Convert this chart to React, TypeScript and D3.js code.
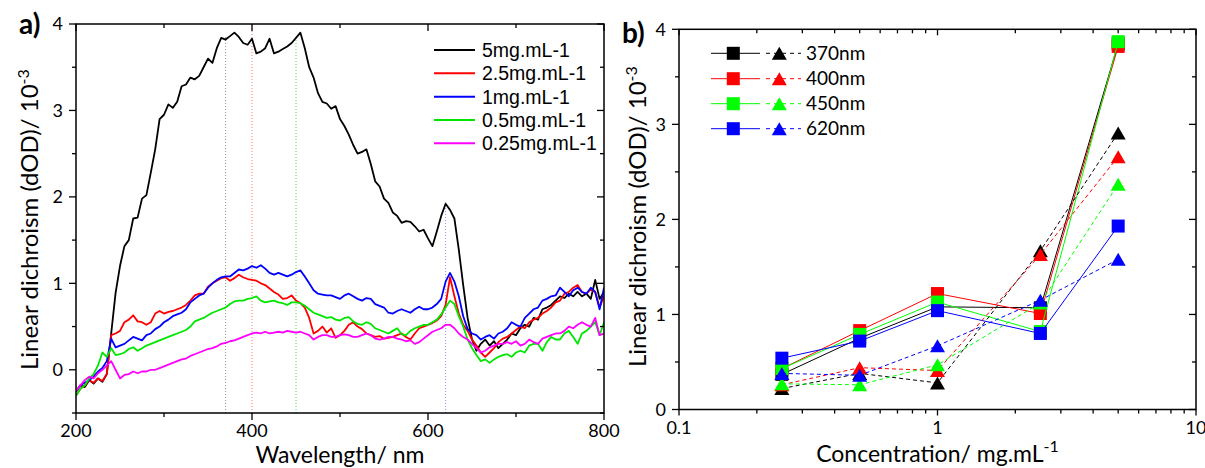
import React from 'react';
import * as d3 from 'd3';

// ---------- Panel a data ----------
const wavelengths = d3.range(200, 801, 5);
const ld5 = [
  -0.25, -0.18, -0.2, -0.12, -0.16, -0.1, -0.14, -0.05, 0.42, 0.89,
  1.2, 1.43, 1.5, 1.75, 1.76, 1.98, 2.02, 2.28, 2.55, 2.9,
  2.95, 3.07, 3.03, 3.1, 3.28, 3.3, 3.38, 3.36, 3.4, 3.5,
  3.6, 3.55, 3.72, 3.84, 3.82, 3.86, 3.9, 3.85, 3.78, 3.76,
  3.83, 3.66, 3.68, 3.72, 3.83, 3.66, 3.68, 3.71, 3.74, 3.78,
  3.84, 3.9, 3.72, 3.5, 3.38, 3.2, 3.1, 3.08, 3.02, 3.05,
  2.9, 2.82, 2.72, 2.6, 2.5, 2.52, 2.55, 2.38, 2.18, 2.12,
  1.98, 1.93, 1.82, 1.78, 1.7, 1.72, 1.71, 1.66, 1.6, 1.62,
  1.52, 1.43, 1.6, 1.78, 1.92, 1.85, 1.75, 1.39, 0.98, 0.6,
  0.35, 0.22, 0.3, 0.35, 0.28, 0.33, 0.25, 0.3, 0.35, 0.42,
  0.4, 0.48, 0.52, 0.5, 0.6, 0.58, 0.7, 0.72, 0.75, 0.8,
  0.85, 0.83, 0.88, 0.85, 0.9, 0.85, 0.88, 0.82, 1.04, 0.82,
  0.9,
];
const ld2_5 = [
  -0.3, -0.22, -0.18, -0.12, -0.15, -0.1, -0.13, -0.05, 0.4, 0.42,
  0.45, 0.55, 0.58, 0.63, 0.56, 0.55, 0.52, 0.55, 0.65, 0.68,
  0.65, 0.67, 0.68, 0.7, 0.72, 0.75, 0.8, 0.86, 0.88, 0.88,
  0.96, 1.0, 1.03, 1.06, 1.07, 1.03, 1.06, 1.1, 1.07, 1.05,
  1.04, 1.03, 1.0, 0.98, 0.94, 0.9, 0.87, 0.82, 0.83, 0.86,
  0.8, 0.77, 0.72, 0.6, 0.42, 0.45, 0.5, 0.43, 0.48, 0.37,
  0.4, 0.45, 0.52, 0.55, 0.5, 0.47, 0.42, 0.4, 0.38, 0.39,
  0.36, 0.37, 0.38, 0.4, 0.42, 0.38, 0.35, 0.42, 0.48, 0.5,
  0.52, 0.54, 0.57, 0.62, 0.75, 1.07, 0.85, 0.65, 0.52, 0.45,
  0.35, 0.28, 0.2, 0.15, 0.2, 0.25, 0.32, 0.36, 0.38, 0.42,
  0.46, 0.5, 0.48, 0.55, 0.58, 0.6, 0.65, 0.68, 0.72, 0.78,
  0.8, 0.88, 0.9, 0.95, 0.98, 0.9, 0.88, 0.93, 0.9, 0.72,
  0.85,
];
const ld1 = [
  -0.25, -0.18, -0.15, -0.12, -0.08, -0.02, 0.02, 0.1, 0.36, 0.26,
  0.28, 0.3, 0.34, 0.38, 0.36, 0.34, 0.4, 0.42, 0.47, 0.5,
  0.55, 0.58, 0.62, 0.64, 0.66, 0.7, 0.78, 0.82, 0.86, 0.88,
  0.95, 1.0, 1.04, 1.07, 1.08, 1.08, 1.12, 1.16, 1.15, 1.17,
  1.2, 1.18, 1.21, 1.17, 1.12, 1.1, 1.12, 1.1, 1.08, 1.1,
  1.13, 1.15, 1.08, 1.0, 0.92, 0.88, 0.87, 0.86, 0.86, 0.84,
  0.82, 0.86, 0.88, 0.85, 0.82, 0.8, 0.83, 0.82, 0.76, 0.74,
  0.72, 0.66, 0.65, 0.68, 0.7, 0.68, 0.66, 0.7, 0.73, 0.7,
  0.7, 0.72, 0.76, 0.82, 1.02, 1.12, 1.02, 0.85, 0.62, 0.47,
  0.42, 0.4, 0.35, 0.38, 0.4, 0.36, 0.42, 0.44, 0.48, 0.55,
  0.52, 0.5, 0.6, 0.65, 0.7, 0.72, 0.8, 0.82, 0.85, 0.86,
  0.95, 0.9, 0.85, 0.92, 0.95, 0.9, 0.88, 0.95, 0.9, 0.7,
  0.95,
];
const ld0_5 = [
  -0.3, -0.22, -0.18, -0.1, -0.05, 0.05, 0.2, 0.15, 0.25, 0.17,
  0.18, 0.2, 0.24, 0.26, 0.22, 0.25, 0.28, 0.3, 0.32, 0.34,
  0.36, 0.38, 0.4, 0.42, 0.44, 0.46, 0.5, 0.56, 0.58, 0.6,
  0.63, 0.66, 0.68, 0.7, 0.72, 0.76, 0.79, 0.8, 0.8, 0.82,
  0.83, 0.85, 0.8, 0.78, 0.79, 0.8, 0.78, 0.77, 0.75, 0.78,
  0.78, 0.77, 0.74, 0.7, 0.66, 0.64, 0.62, 0.6, 0.61, 0.58,
  0.57, 0.6, 0.61, 0.56, 0.53, 0.52, 0.55, 0.53, 0.48, 0.46,
  0.44, 0.42, 0.45, 0.48, 0.41, 0.4, 0.45, 0.48, 0.5, 0.52,
  0.52, 0.55, 0.58, 0.64, 0.72, 0.8, 0.76, 0.62, 0.5, 0.35,
  0.25, 0.17, 0.1, 0.12, 0.08, 0.12, 0.15, 0.17, 0.18, 0.15,
  0.2, 0.22, 0.2, 0.28, 0.3, 0.3, 0.22, 0.32, 0.38, 0.35,
  0.35, 0.42, 0.45, 0.38, 0.3, 0.42, 0.45, 0.5, 0.55, 0.4,
  0.55,
];
const ld0_25 = [
  -0.25, -0.18, -0.12, -0.08, -0.1, -0.04, 0.0, 0.05, 0.1, 0.0,
  -0.1, -0.06, -0.05, -0.02, -0.04, -0.02, -0.02, 0.0, 0.0, 0.02,
  0.04, 0.06, 0.08, 0.1, 0.12, 0.13, 0.16, 0.18, 0.2, 0.22,
  0.24, 0.25, 0.27, 0.3, 0.31, 0.33, 0.34, 0.36, 0.38, 0.4,
  0.42, 0.43, 0.42, 0.44, 0.42, 0.43, 0.44, 0.43, 0.45, 0.44,
  0.43, 0.44, 0.42, 0.4, 0.35, 0.38, 0.4, 0.4, 0.38, 0.38,
  0.4, 0.41, 0.4, 0.38, 0.38, 0.4, 0.42, 0.4, 0.36, 0.35,
  0.36, 0.38, 0.38, 0.36, 0.35, 0.33, 0.34, 0.3, 0.32, 0.36,
  0.4, 0.44, 0.46, 0.48, 0.52, 0.52, 0.48, 0.42, 0.38, 0.35,
  0.3, 0.25, 0.2, 0.22, 0.26, 0.28, 0.3, 0.3, 0.32, 0.3,
  0.33, 0.28, 0.3, 0.35, 0.32, 0.3, 0.36, 0.38, 0.4, 0.42,
  0.42, 0.45, 0.5, 0.48, 0.52, 0.55, 0.52, 0.5, 0.6, 0.4,
  0.42,
];
const spectraLabels = ['5mg.mL-1', '2.5mg.mL-1', '1mg.mL-1', '0.5mg.mL-1', '0.25mg.mL-1'];
const spectraColors = ['#000000', '#ff0000', '#0000ff', '#00e600', '#ff00ff'];
const spectra = [ld5, ld2_5, ld1, ld0_5, ld0_25];

const markerWavelengths = [370, 400, 450, 620];
const markerTops = [3.85, 4.0, 3.87, 1.95];
const markerColors = ['#909090', '#ff7070', '#50e050', '#9090ff'];

const xTicksA = [200, 400, 600, 800];
const xMinorA = [300, 500, 700];
const yTicksA = [0, 1, 2, 3, 4];
const yMinorA = [-0.5, 0.5, 1.5, 2.5, 3.5];

// ---------- Panel b data ----------
const concentrations = [0.25, 0.5, 1, 2.5, 5];
const bandLabels = ['370nm', '400nm', '450nm', '620nm'];
const bandColors = ['#000000', '#ff0000', '#00ff00', '#0000ff'];
const sq370 = [0.37, 0.75, 1.08, 1.07, 3.85];
const sq400 = [0.43, 0.83, 1.22, 1.01, 3.82];
const sq450 = [0.43, 0.79, 1.13, 0.82, 3.87];
const sq620 = [0.54, 0.72, 1.04, 0.80, 1.93];
const tri370 = [0.22, 0.38, 0.28, 1.67, 2.91];
const tri400 = [0.26, 0.44, 0.41, 1.63, 2.66];
const tri450 = [0.27, 0.26, 0.47, 1.12, 2.37];
const tri620 = [0.38, 0.36, 0.67, 1.15, 1.58];
const squareSeries = [sq370, sq400, sq450, sq620];
const triangleSeries = [tri370, tri400, tri450, tri620];

const xTicksB = [0.1, 1, 10];
const xTickLabelsB = ['0.1', '1', '10'];
const xMinorB = [0.2, 0.3, 0.4, 0.5, 0.6, 0.7, 0.8, 0.9, 2, 3, 4, 5, 6, 7, 8, 9];
const yTicksB = [0, 1, 2, 3, 4];
const yMinorB = [0.5, 1.5, 2.5, 3.5];

const FONT = 'Lato, "Open Sans", sans-serif';

export default function App() {
  const A = { l: 76, r: 604, t: 24, b: 413 };
  const xa = d3.scaleLinear().domain([200, 800]).range([A.l, A.r]);
  const ya = d3.scaleLinear().domain([-0.5, 4]).range([A.b, A.t]);
  const lineA = d3.line<number>().x((_, i) => xa(wavelengths[i])).y((d) => ya(d));

  const B = { l: 679, r: 1196, t: 29.3, b: 409.5 };
  const xb = d3.scaleLog().domain([0.1, 10]).range([B.l, B.r]);
  const yb = d3.scaleLinear().domain([0, 4]).range([B.b, B.t]);
  const lineB = d3.line<number>().x((_, i) => xb(concentrations[i])).y((d) => yb(d));

  const sq = 13;
  const triW = 15;
  const triH = 13;
  const triPath = (cx: number, cy: number) =>
    `M${cx},${cy - triH / 2}L${cx + triW / 2},${cy + triH / 2}L${cx - triW / 2},${cy + triH / 2}Z`;

  const legendARows = [50, 73.3, 96.7, 120, 143.3];
  const legendBRows = [53.3, 78.7, 103.7, 128.7];

  return (
    <svg width={1205} height={468} style={{ position: 'absolute', left: 0, top: 0, background: '#fff' }}>
      <defs>
        <clipPath id="clipA">
          <rect x={A.l} y={A.t} width={A.r - A.l} height={A.b - A.t} />
        </clipPath>
        <clipPath id="clipB">
          <rect x={B.l} y={B.t} width={B.r - B.l} height={B.b - B.t} />
        </clipPath>
      </defs>

      {/* ================= Panel a ================= */}
      <text x={19} y={34} fontFamily={FONT} fontWeight="bold" fontSize={28}>a)</text>
      <g clipPath="url(#clipA)">
        {markerWavelengths.map((w, i) => (
          <line key={w} x1={xa(w)} x2={xa(w)} y1={A.b} y2={ya(markerTops[i])}
            stroke={markerColors[i]} strokeWidth={1} strokeDasharray="1,2" />
        ))}
        {spectra.map((s, i) => (
          <path key={i} d={lineA(s) || ''} fill="none" stroke={spectraColors[i]} strokeWidth={1.8} strokeLinejoin="round" />
        ))}
      </g>
      <rect x={A.l} y={A.t} width={A.r - A.l} height={A.b - A.t} fill="none" stroke="#000" strokeWidth={1.5} />
      {xTicksA.map((t) => (
        <g key={t}>
          <line x1={xa(t)} x2={xa(t)} y1={A.b} y2={A.b + 7} stroke="#000" strokeWidth={1.3} />
          <line x1={xa(t)} x2={xa(t)} y1={A.t} y2={A.t + 7} stroke="#000" strokeWidth={1.3} />
          <text x={xa(t)} y={437} textAnchor="middle" fontFamily={FONT} fontSize={18}>{t}</text>
        </g>
      ))}
      {xMinorA.map((t) => (
        <g key={t}>
          <line x1={xa(t)} x2={xa(t)} y1={A.b} y2={A.b + 4} stroke="#000" strokeWidth={1.3} />
          <line x1={xa(t)} x2={xa(t)} y1={A.t} y2={A.t + 4} stroke="#000" strokeWidth={1.3} />
        </g>
      ))}
      {yTicksA.map((t) => (
        <g key={t}>
          <line x1={A.l - 7} x2={A.l} y1={ya(t)} y2={ya(t)} stroke="#000" strokeWidth={1.3} />
          <line x1={A.r - 7} x2={A.r} y1={ya(t)} y2={ya(t)} stroke="#000" strokeWidth={1.3} />
          <text x={63} y={ya(t)} dy="0.35em" textAnchor="end" fontFamily={FONT} fontSize={18}>{t}</text>
        </g>
      ))}
      {yMinorA.map((t) => (
        <g key={t}>
          <line x1={A.l - 4} x2={A.l} y1={ya(t)} y2={ya(t)} stroke="#000" strokeWidth={1.3} />
          <line x1={A.r - 4} x2={A.r} y1={ya(t)} y2={ya(t)} stroke="#000" strokeWidth={1.3} />
        </g>
      ))}
      <text x={(A.l + A.r) / 2} y={463} textAnchor="middle" fontFamily={FONT} fontSize={23}>Wavelength/ nm</text>
      <text transform={`translate(38,370) rotate(-90)`} textAnchor="start" fontFamily={FONT} fontSize={24}>
        Linear dichroism (dOD)/ 10<tspan dy={-9} fontSize={16}>-3</tspan>
      </text>
      {spectraLabels.map((lab, i) => (
        <g key={lab}>
          <line x1={434} x2={475} y1={legendARows[i]} y2={legendARows[i]} stroke={spectraColors[i]} strokeWidth={2} />
          <text x={482} y={legendARows[i]} dy="0.36em" fontFamily='"Liberation Sans", Arial, sans-serif' fontSize={19.5}>{lab}</text>
        </g>
      ))}

      {/* ================= Panel b ================= */}
      <text x={622} y={43} fontFamily={FONT} fontWeight="bold" fontSize={28}>b)</text>
      <g clipPath="url(#clipB)">
        {squareSeries.map((s, i) => (
          <g key={'s' + i}>
            <path d={lineB(s) || ''} fill="none" stroke={bandColors[i]} strokeWidth={1} />
            {s.map((v, j) => (
              <rect key={j} x={xb(concentrations[j]) - sq / 2} y={yb(v) - sq / 2} width={sq} height={sq} fill={bandColors[i]} />
            ))}
          </g>
        ))}
        {triangleSeries.map((s, i) => (
          <g key={'t' + i}>
            <path d={lineB(s) || ''} fill="none" stroke={bandColors[i]} strokeWidth={1} strokeDasharray="4,3" />
            {s.map((v, j) => (
              <path key={j} d={triPath(xb(concentrations[j]), yb(v))} fill={bandColors[i]} />
            ))}
          </g>
        ))}
      </g>
      <rect x={B.l} y={B.t} width={B.r - B.l} height={B.b - B.t} fill="none" stroke="#000" strokeWidth={1.5} />
      {xTicksB.map((t, i) => (
        <g key={t}>
          <line x1={xb(t)} x2={xb(t)} y1={B.b} y2={B.b + 6} stroke="#000" strokeWidth={1.3} />
          <line x1={xb(t)} x2={xb(t)} y1={B.t} y2={B.t + 6} stroke="#000" strokeWidth={1.3} />
          <text x={xb(t)} y={434} textAnchor="middle" fontFamily={FONT} fontSize={18}>{xTickLabelsB[i]}</text>
        </g>
      ))}
      {xMinorB.map((t) => (
        <g key={t}>
          <line x1={xb(t)} x2={xb(t)} y1={B.b} y2={B.b + 4} stroke="#000" strokeWidth={1.3} />
          <line x1={xb(t)} x2={xb(t)} y1={B.t} y2={B.t + 4} stroke="#000" strokeWidth={1.3} />
        </g>
      ))}
      {yTicksB.map((t) => (
        <g key={t}>
          <line x1={B.l - 7} x2={B.l} y1={yb(t)} y2={yb(t)} stroke="#000" strokeWidth={1.3} />
          <line x1={B.r - 7} x2={B.r} y1={yb(t)} y2={yb(t)} stroke="#000" strokeWidth={1.3} />
          <text x={666} y={yb(t)} dy="0.35em" textAnchor="end" fontFamily={FONT} fontSize={18}>{t}</text>
        </g>
      ))}
      {yMinorB.map((t) => (
        <g key={t}>
          <line x1={B.l - 4} x2={B.l} y1={yb(t)} y2={yb(t)} stroke="#000" strokeWidth={1.3} />
          <line x1={B.r - 4} x2={B.r} y1={yb(t)} y2={yb(t)} stroke="#000" strokeWidth={1.3} />
        </g>
      ))}
      <text x={(B.l + B.r) / 2} y={462} textAnchor="middle" fontFamily={FONT} fontSize={23}>
        Concentration/ mg.mL<tspan dy={-10} fontSize={16}>-1</tspan>
      </text>
      <text transform={`translate(646,367) rotate(-90)`} textAnchor="start" fontFamily={FONT} fontSize={24}>
        Linear dichroism (dOD)/ 10<tspan dy={-9} fontSize={16}>-3</tspan>
      </text>
      {bandLabels.map((lab, i) => {
        const y = legendBRows[i];
        return (
          <g key={lab}>
            <line x1={711} x2={760} y1={y} y2={y} stroke={bandColors[i]} strokeWidth={1} />
            <rect x={733.3 - sq / 2} y={y - sq / 2} width={sq} height={sq} fill={bandColors[i]} />
            <line x1={766} x2={801} y1={y} y2={y} stroke={bandColors[i]} strokeWidth={1} strokeDasharray="4,4" />
            <path d={triPath(779.3, y)} fill={bandColors[i]} />
            <text x={806} y={y} dy="0.35em" fontFamily={FONT} fontSize={19}>{lab}</text>
          </g>
        );
      })}
    </svg>
  );
}
